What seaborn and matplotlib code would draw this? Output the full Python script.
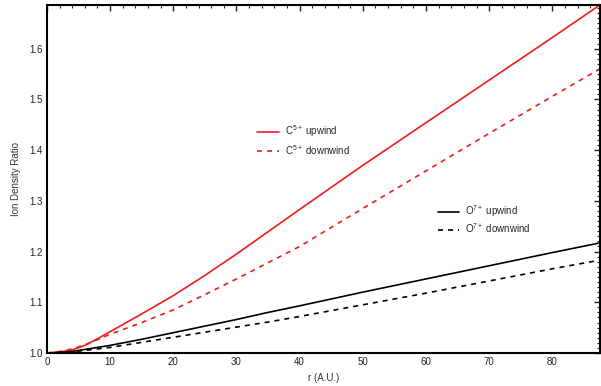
import matplotlib
matplotlib.use("Agg")
import matplotlib.pyplot as plt
import seaborn as sns
import pandas as pd
from matplotlib.ticker import MultipleLocator
from matplotlib.lines import Line2D

r_au = [0, 2, 4, 6, 8, 10, 15, 20, 25, 30, 35, 40, 50, 60, 70, 80, 87.5]
c5_upwind = [1.000, 1.002, 1.006, 1.015, 1.028, 1.042, 1.077, 1.113, 1.153, 1.195, 1.239, 1.283,
             1.370, 1.454, 1.538, 1.622, 1.686]
c5_downwind = [1.000, 1.003, 1.008, 1.016, 1.026, 1.037, 1.060, 1.085, 1.115, 1.146, 1.178, 1.210,
               1.285, 1.359, 1.433, 1.506, 1.560]
o7_upwind = [1.000, 1.001, 1.003, 1.007, 1.011, 1.015, 1.027, 1.040, 1.053, 1.066, 1.080, 1.093,
             1.120, 1.146, 1.172, 1.198, 1.217]
o7_downwind = [1.000, 1.001, 1.002, 1.005, 1.008, 1.011, 1.021, 1.031, 1.041, 1.051, 1.061, 1.072,
               1.095, 1.118, 1.142, 1.166, 1.183]

series_labels = [r"C$^{5+}$ upwind", r"C$^{5+}$ downwind", r"O$^{7+}$ upwind", r"O$^{7+}$ downwind"]

sns.set_style("white")
plt.rcParams['font.family'] = ['Liberation Sans', 'DejaVu Sans']
plt.rcParams['mathtext.fontset'] = 'custom'
plt.rcParams['mathtext.rm'] = 'Liberation Sans'
plt.rcParams['mathtext.it'] = 'Liberation Sans'

fig = plt.figure(figsize=(6.01, 3.86), dpi=100)
ax = fig.add_axes([0.078, 0.0855, 0.92, 0.9015])

styles = [("#ee1c1c", "-"), ("#ee1c1c", (0, (3, 3))), ("black", "-"), ("black", (0, (3, 3)))]
data = [c5_upwind, c5_downwind, o7_upwind, o7_downwind]
handles = []
for vals, (col, ls), lab in zip(data, styles, series_labels):
    df = pd.DataFrame({"r": r_au, "v": vals})
    sns.lineplot(data=df, x="r", y="v", ax=ax, color=col, linestyle=ls, linewidth=1.2)
    handles.append(Line2D([0], [0], color=col, linestyle=ls, linewidth=1.2, label=lab))

ax.set_xlim(0, 87.5)
ax.set_ylim(1.0, 1.686)
ax.xaxis.set_major_locator(MultipleLocator(10))
ax.xaxis.set_minor_locator(MultipleLocator(2))
ax.yaxis.set_major_locator(MultipleLocator(0.1))
ax.yaxis.set_minor_locator(MultipleLocator(0.01))
ax.tick_params(which="both", direction="in", top=True, right=True, labelsize=7, colors="#222222", pad=3)
ax.tick_params(which="major", length=4, width=1)
ax.tick_params(which="minor", length=2, width=0.8)
ax.set_xlabel("r (A.U.)", fontsize=7, color="#333333", labelpad=4)
ax.set_ylabel("Ion Density Ratio", fontsize=7, color="#333333", labelpad=6)
for s in ax.spines.values():
    s.set_linewidth(1.5)
    s.set_color("black")

leg1 = ax.legend(handles=handles[:2], loc="upper left", bbox_to_anchor=(0.365, 0.685),
                 frameon=False, fontsize=7, handlelength=2.2, handletextpad=0.6, labelspacing=0.4)
ax.add_artist(leg1)
ax.legend(handles=handles[2:], loc="upper left", bbox_to_anchor=(0.691, 0.455),
          frameon=False, fontsize=7, handlelength=2.2, handletextpad=0.6, labelspacing=0.25)

fig.savefig("out.png", dpi=100)
